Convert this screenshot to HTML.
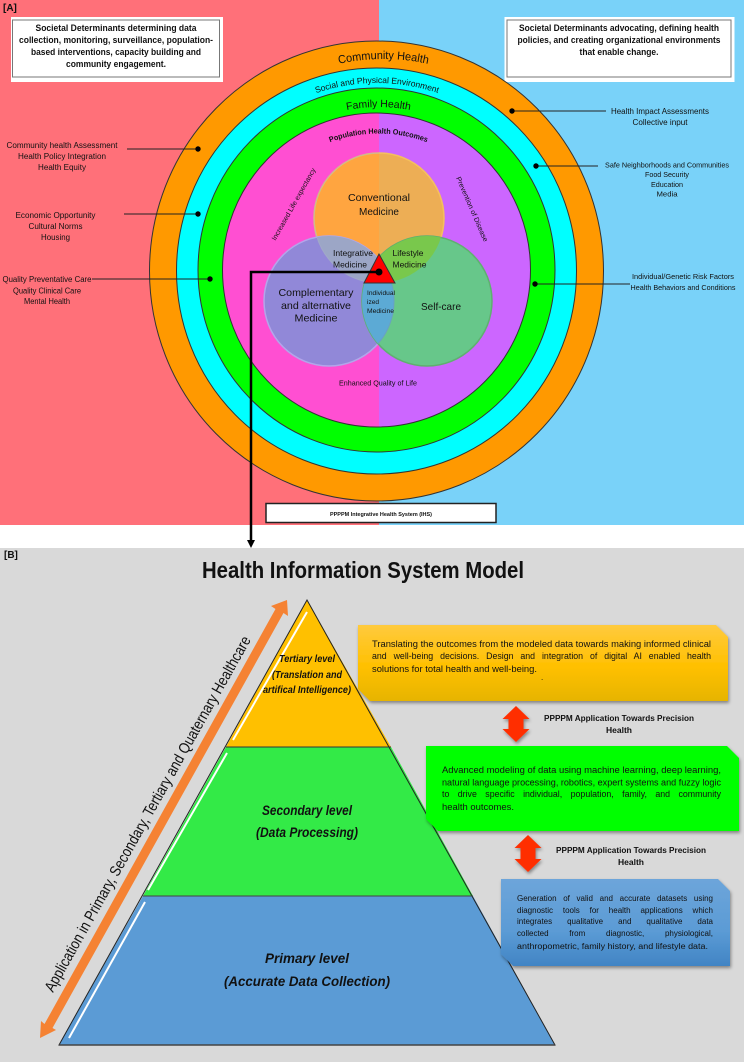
<!DOCTYPE html>
<html><head><meta charset="utf-8">
<style>
html,body{margin:0;padding:0;background:#fff}
body{position:relative;width:744px;height:1062px;overflow:hidden}
svg{display:block}
text{font-family:"Liberation Sans",sans-serif;fill:#111}
.c{text-anchor:middle}
.j{position:absolute;font-family:"Liberation Sans",sans-serif;color:#111;text-align:justify;text-align-last:justify;line-height:12px;height:12px}
</style></head><body>
<svg width="744" height="1062" viewBox="0 0 744 1062" xmlns="http://www.w3.org/2000/svg">
<defs>
<filter id="sh" x="-10%" y="-10%" width="125%" height="125%"><feDropShadow dx="1" dy="2" stdDeviation="1.5" flood-color="#000" flood-opacity=".4"/></filter>
<linearGradient id="gy" x1="0" y1="0" x2="0" y2="1"><stop offset="0" stop-color="#ffca3e"/><stop offset=".55" stop-color="#ffc000"/><stop offset="1" stop-color="#e6b400"/></linearGradient>
<linearGradient id="gb" x1="0" y1="0" x2="0" y2="1"><stop offset="0" stop-color="#6da5da"/><stop offset=".6" stop-color="#5b9bd5"/><stop offset="1" stop-color="#4184c4"/></linearGradient>
<linearGradient id="go" x1="0" y1="0" x2="1" y2="0"><stop offset=".5" stop-color="#ffa540"/><stop offset=".5" stop-color="#edae55"/></linearGradient>
<clipPath id="co"><circle cx="379" cy="218" r="65"/></clipPath>
<clipPath id="cg"><circle cx="427" cy="301" r="65"/></clipPath>
<clipPath id="lh"><rect x="0" y="0" width="379" height="525"/></clipPath>
<clipPath id="rh"><rect x="379" y="0" width="365" height="525"/></clipPath>
<path id="a1" d="M175.5 267A208 208 0 0 1 591.5 267"/>
<path id="a2" d="M189 271A188 188 0 0 1 565 271"/>
<path id="a3" d="M213.5 272A165 165 0 0 1 543.5 272"/>
<path id="a4" d="M239.5 272.5A139 139 0 0 1 517.5 272.5"/>
</defs>

<rect x="0" y="0" width="379" height="525" fill="#ff7079"/>
<rect x="379" y="0" width="365" height="525" fill="#79d2f9"/>
<rect x="0" y="525" width="744" height="23" fill="#fff"/>
<rect x="0" y="548" width="744" height="514" fill="#d9d9d9"/>

<text x="3" y="11" font-weight="bold" font-size="10">[A]</text>

<rect x="12.5" y="18.5" width="209" height="62" fill="#fff" stroke="#fff" stroke-width="3"/>
<rect x="12.5" y="20" width="207" height="57" fill="#fff" stroke="#777" stroke-width="1"/>
<g font-size="9.2" font-weight="bold">
<text x="116" y="31" class="c" textLength="161" lengthAdjust="spacingAndGlyphs">Societal Determinants determining data</text>
<text x="116" y="43" class="c" textLength="194" lengthAdjust="spacingAndGlyphs">collection, monitoring, surveillance, population-</text>
<text x="116" y="55" class="c" textLength="170" lengthAdjust="spacingAndGlyphs">based interventions, capacity building and</text>
<text x="116" y="67" class="c" textLength="100" lengthAdjust="spacingAndGlyphs">community engagement.</text>
</g>
<rect x="506" y="18.5" width="227" height="62" fill="#fff" stroke="#fff" stroke-width="3"/>
<rect x="507" y="20" width="224" height="57" fill="#fff" stroke="#777" stroke-width="1"/>
<g font-size="9.2" font-weight="bold">
<text x="619" y="31" class="c" textLength="200" lengthAdjust="spacingAndGlyphs">Societal Determinants advocating, defining health</text>
<text x="619" y="43" class="c" textLength="203" lengthAdjust="spacingAndGlyphs">policies, and creating organizational environments</text>
<text x="619" y="55" class="c" textLength="79" lengthAdjust="spacingAndGlyphs">that enable change.</text>
</g>

<ellipse cx="376.5" cy="271" rx="227" ry="230" fill="#ff9900" stroke="#333" stroke-width="1"/>
<ellipse cx="376.5" cy="271" rx="200" ry="203" fill="#00ffff" stroke="#333" stroke-width="1"/>
<ellipse cx="376.5" cy="270" rx="178.5" ry="182" fill="#00ff00" stroke="#333" stroke-width="1"/>
<ellipse cx="376.5" cy="270" rx="154" ry="157" fill="#ff4fd2" clip-path="url(#lh)"/>
<ellipse cx="376.5" cy="270" rx="154" ry="157" fill="#cc66ff" clip-path="url(#rh)"/>
<ellipse cx="376.5" cy="270" rx="154" ry="157" fill="none" stroke="#333" stroke-width="1"/>

<text font-size="11.5"><textPath href="#a1" startOffset="50%" text-anchor="middle" textLength="90" lengthAdjust="spacingAndGlyphs">Community Health</textPath></text>
<text font-size="8.6"><textPath href="#a2" startOffset="50%" text-anchor="middle" textLength="124" lengthAdjust="spacingAndGlyphs">Social and Physical Environment</textPath></text>
<text font-size="10.5"><textPath href="#a3" startOffset="50%" text-anchor="middle" textLength="64" lengthAdjust="spacingAndGlyphs">Family Health</textPath></text>
<text font-size="7.6" font-weight="bold"><textPath href="#a4" startOffset="50%" text-anchor="middle" textLength="99" lengthAdjust="spacingAndGlyphs">Population Health Outcomes</textPath></text>

<text transform="translate(275.5,241) rotate(-60.5)" font-size="7" textLength="82" lengthAdjust="spacingAndGlyphs">Increased Life expectancy</text>
<text transform="translate(456,178) rotate(66.5)" font-size="7" textLength="70" lengthAdjust="spacingAndGlyphs">Prevention of Disease</text>
<text x="378" y="385.5" class="c" font-size="7.2" textLength="78" lengthAdjust="spacingAndGlyphs">Enhanced Quality of Life</text>

<circle cx="379" cy="218" r="65" fill="url(#go)" stroke="#f4c05e" stroke-width="1.5"/>
<circle cx="329" cy="301" r="65" fill="#9188d8" stroke="#b3a5ea" stroke-width="1.5"/>
<circle cx="427" cy="301" r="65" fill="#67c78a" stroke="#5fb070" stroke-width="1.5"/>
<circle cx="329" cy="301" r="65" fill="#9ca6c6" clip-path="url(#co)"/>
<circle cx="427" cy="301" r="65" fill="#79c84c" clip-path="url(#co)"/>
<circle cx="329" cy="301" r="65" fill="#5caad5" stroke="#6a9fc4" stroke-width="1" clip-path="url(#cg)"/>
<circle cx="379" cy="218" r="65" fill="none" stroke="#a8b2c6" stroke-width="1" clip-path="url(#lh)" opacity=".6"/>

<g font-size="10.5">
<text x="379" y="201" class="c" textLength="62" lengthAdjust="spacingAndGlyphs">Conventional</text>
<text x="379" y="215" class="c" textLength="40" lengthAdjust="spacingAndGlyphs">Medicine</text>
<text x="316" y="296" class="c" textLength="75" lengthAdjust="spacingAndGlyphs">Complementary</text>
<text x="316" y="309" class="c" textLength="70" lengthAdjust="spacingAndGlyphs">and alternative</text>
<text x="316" y="321.5" class="c" textLength="43" lengthAdjust="spacingAndGlyphs">Medicine</text>
<text x="441" y="310" class="c" textLength="40" lengthAdjust="spacingAndGlyphs">Self-care</text>
</g>
<g font-size="8">
<text x="333" y="256" textLength="40" lengthAdjust="spacingAndGlyphs">Integrative</text>
<text x="333" y="267.5" textLength="34" lengthAdjust="spacingAndGlyphs">Medicine</text>
<text x="392.5" y="256" textLength="31" lengthAdjust="spacingAndGlyphs">Lifestyle</text>
<text x="392.5" y="267.5" textLength="34" lengthAdjust="spacingAndGlyphs">Medicine</text>
</g>
<g font-size="6">
<text x="367" y="295" textLength="28" lengthAdjust="spacingAndGlyphs">Individual</text>
<text x="367" y="304" textLength="12" lengthAdjust="spacingAndGlyphs">ized</text>
<text x="367" y="313" textLength="27" lengthAdjust="spacingAndGlyphs">Medicine</text>
</g>

<polygon points="379,254 364,283 395,283" fill="#ff0000" stroke="#333" stroke-width="1"/>
<polyline points="379,272 251,272 251,542" fill="none" stroke="#000" stroke-width="2.5"/>
<polygon points="247,540 255,540 251,548" fill="#000"/>
<circle cx="379" cy="272" r="3.5" fill="#000"/>

<g stroke="#222" stroke-width=".9">
<line x1="127" y1="149" x2="198" y2="149"/>
<line x1="124" y1="214" x2="198" y2="214"/>
<line x1="92" y1="279" x2="210" y2="279"/>
<line x1="512" y1="111" x2="606" y2="111"/>
<line x1="536" y1="166" x2="598" y2="166"/>
<line x1="535" y1="284" x2="630" y2="284"/>
</g>
<g fill="#000">
<circle cx="198" cy="149" r="2.7"/><circle cx="198" cy="214" r="2.7"/><circle cx="210" cy="279" r="2.7"/>
<circle cx="512" cy="111" r="2.7"/><circle cx="536" cy="166" r="2.7"/><circle cx="535" cy="284" r="2.7"/>
</g>

<g font-size="8">
<text x="62" y="148" class="c" textLength="111" lengthAdjust="spacingAndGlyphs">Community health Assessment</text>
<text x="62" y="159" class="c" textLength="88" lengthAdjust="spacingAndGlyphs">Health Policy Integration</text>
<text x="62" y="170" class="c" textLength="48" lengthAdjust="spacingAndGlyphs">Health Equity</text>
<text x="55.5" y="218" class="c" textLength="80" lengthAdjust="spacingAndGlyphs">Economic Opportunity</text>
<text x="55.5" y="229" class="c" textLength="54" lengthAdjust="spacingAndGlyphs">Cultural Norms</text>
<text x="55.5" y="240" class="c" textLength="29" lengthAdjust="spacingAndGlyphs">Housing</text>
<text x="47" y="282" class="c" textLength="89" lengthAdjust="spacingAndGlyphs">Quality Preventative Care</text>
<text x="47" y="293.5" class="c" textLength="68" lengthAdjust="spacingAndGlyphs">Quality Clinical Care</text>
<text x="47" y="304" class="c" textLength="46" lengthAdjust="spacingAndGlyphs">Mental Health</text>
<text x="660" y="114" class="c" textLength="98" lengthAdjust="spacingAndGlyphs">Health Impact Assessments</text>
<text x="660" y="125" class="c" textLength="55" lengthAdjust="spacingAndGlyphs">Collective input</text>
</g>
<g font-size="7.2">
<text x="667" y="167.5" class="c" textLength="124" lengthAdjust="spacingAndGlyphs">Safe Neighborhoods and Communities</text>
<text x="667" y="177" class="c" textLength="44" lengthAdjust="spacingAndGlyphs">Food Security</text>
<text x="667" y="187" class="c" textLength="32" lengthAdjust="spacingAndGlyphs">Education</text>
<text x="667" y="196.5" class="c" textLength="21" lengthAdjust="spacingAndGlyphs">Media</text>
<text x="683" y="279" class="c" textLength="102" lengthAdjust="spacingAndGlyphs">Individual/Genetic Risk Factors</text>
<text x="683" y="290" class="c" textLength="105" lengthAdjust="spacingAndGlyphs">Health Behaviors and Conditions</text>
</g>

<rect x="266" y="503.5" width="230" height="19" fill="#fff" stroke="#222" stroke-width="1.5"/>
<text x="381" y="516" class="c" font-size="5.8" font-weight="bold" textLength="102" lengthAdjust="spacingAndGlyphs">PPPPM Integrative Health System (IHS)</text>

<text x="4" y="558" font-weight="bold" font-size="10">[B]</text>
<text x="202" y="578" font-size="23" font-weight="bold" textLength="322" lengthAdjust="spacingAndGlyphs">Health Information System Model</text>

<polygon points="307,600 391,747 226,747" fill="#ffc000"/>
<polygon points="226,747 391,747 473,896 143,896" fill="#33ea47"/>
<polygon points="143,896 473,896 555,1045 59,1045" fill="#5b9bd5"/>
<polygon points="307,600 555,1045 59,1045" fill="none" stroke="#222" stroke-width="1"/>
<line x1="226" y1="747" x2="391" y2="747" stroke="#333" stroke-width="1"/>
<line x1="143" y1="896" x2="473" y2="896" stroke="#444" stroke-width="1"/>
<line x1="59" y1="1045" x2="555" y2="1045" stroke="#444" stroke-width="1.5"/>
<line x1="307" y1="612" x2="233" y2="740" stroke="#fff" stroke-width="2"/>
<line x1="227" y1="753" x2="148" y2="890" stroke="#fff" stroke-width="2"/>
<line x1="145" y1="902" x2="69" y2="1038" stroke="#fff" stroke-width="2"/>

<polygon points="287,600 288,616 283.500,613 52.500,1028 56,1030 40,1038 41,1021 44.500,1024 275.500,609 271,606" fill="#f58233"/>

<text transform="translate(53,993) rotate(-60.7)" font-size="15.5" textLength="405" lengthAdjust="spacingAndGlyphs">Application in Primary, Secondary, Tertiary and Quaternary Healthcare</text>

<g font-weight="bold" font-style="italic">
<text x="307" y="662" class="c" font-size="10" textLength="56" lengthAdjust="spacingAndGlyphs">Tertiary level</text>
<text x="307" y="678" class="c" font-size="10" textLength="70" lengthAdjust="spacingAndGlyphs">(Translation and</text>
<text x="307" y="693" class="c" font-size="10" textLength="88" lengthAdjust="spacingAndGlyphs">artifical Intelligence)</text>
<text x="307" y="815" class="c" font-size="14" textLength="90" lengthAdjust="spacingAndGlyphs">Secondary level</text>
<text x="307" y="837" class="c" font-size="14" textLength="102" lengthAdjust="spacingAndGlyphs">(Data Processing)</text>
<text x="307" y="963" class="c" font-size="14" textLength="84" lengthAdjust="spacingAndGlyphs">Primary level</text>
<text x="307" y="986" class="c" font-size="14" textLength="166" lengthAdjust="spacingAndGlyphs">(Accurate Data Collection)</text>
</g>

<polygon points="358,625 716,625 728,637 728,701 370,701 358,689" fill="url(#gy)" filter="url(#sh)"/>
<polygon points="426,746 727,746 739,758 739,831 438,831 426,819" fill="#00ff00" filter="url(#sh)"/>
<polygon points="501,879 718,879 730,891 730,966 513,966 501,954" fill="url(#gb)" filter="url(#sh)"/>

<g font-size="9">
<text x="372" y="647" textLength="339" lengthAdjust="spacingAndGlyphs">Translating the outcomes from the modeled data towards making informed clinical</text>
<text x="372" y="672" textLength="165" lengthAdjust="spacingAndGlyphs">solutions for total health and well-being.</text>
<text x="541" y="680" font-size="8">.</text>
<text x="442" y="773" textLength="279" lengthAdjust="spacingAndGlyphs">Advanced modeling of data using machine learning, deep learning,</text>
<text x="442" y="785.5" textLength="279" lengthAdjust="spacingAndGlyphs">natural language processing, robotics, expert systems and fuzzy logic</text>
<text x="442" y="810" textLength="72" lengthAdjust="spacingAndGlyphs">health outcomes.</text>
</g>
<text x="517" y="949" font-size="8" textLength="191" lengthAdjust="spacingAndGlyphs">anthropometric, family history, and lifestyle data.</text>

<polygon points="516,706 529.5,719 523.5,719 523.5,729 529.5,729 516,742 502.5,729 508.5,729 508.5,719 502.5,719" fill="#ff2f00" filter="url(#sh)"/>
<polygon points="528,835 541.5,848 535.5,848 535.5,859 541.5,859 528,872 514.5,859 520.5,859 520.5,848 514.5,848" fill="#ff2f00" filter="url(#sh)"/>

<g font-size="8" font-weight="bold">
<text x="619" y="721" class="c" textLength="150" lengthAdjust="spacingAndGlyphs">PPPPM Application Towards Precision</text>
<text x="619" y="733" class="c" textLength="26" lengthAdjust="spacingAndGlyphs">Health</text>
<text x="631" y="853" class="c" textLength="150" lengthAdjust="spacingAndGlyphs">PPPPM Application Towards Precision</text>
<text x="631" y="865" class="c" textLength="26" lengthAdjust="spacingAndGlyphs">Health</text>
</g>
</svg>
<div class="j" style="left:372px;top:650px;width:339px;font-size:8.8px">and well-being decisions. Design and integration of digital AI enabled health</div>
<div class="j" style="left:442px;top:788px;width:279px;font-size:8.8px">to drive specific individual, population, family, and community</div>
<div class="j" style="left:517px;top:893px;width:196px;font-size:8px">Generation of valid and accurate datasets using</div>
<div class="j" style="left:517px;top:904.5px;width:196px;font-size:8px">diagnostic tools for health applications which</div>
<div class="j" style="left:517px;top:916px;width:196px;font-size:8px">integrates qualitative and qualitative data</div>
<div class="j" style="left:517px;top:928px;width:196px;font-size:8px">collected from diagnostic, physiological,</div>
</body></html>
